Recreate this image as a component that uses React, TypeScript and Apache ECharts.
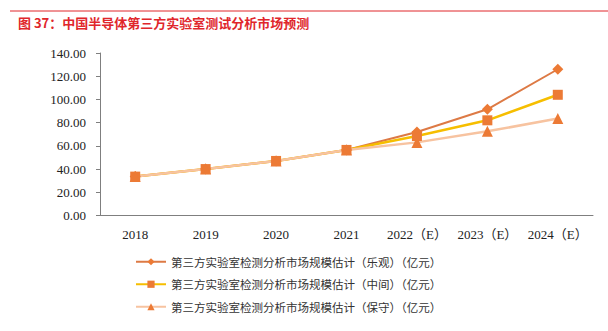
import React, { useEffect, useRef } from "react";
import * as echarts from "echarts";

const categories = ["2018", "2019", "2020", "2021", "2022（E）", "2023（E）", "2024（E）"];
const optimistic = [33.5, 40, 47, 56.5, 72, 91.5, 126];
const middle = [33.5, 40, 47, 56.5, 68.5, 82, 104];
const conservative = [33.5, 40, 47, 56.5, 63, 72.5, 83.5];
const seriesNames = [
  "第三方实验室检测分析市场规模估计（乐观）（亿元）",
  "第三方实验室检测分析市场规模估计（中间）（亿元）",
  "第三方实验室检测分析市场规模估计（保守）（亿元）",
];
const title = "图 37：中国半导体第三方实验室测试分析市场预测";

export default function App() {
  const ref = useRef<HTMLDivElement>(null);
  useEffect(() => {
    if (!ref.current) return;
    const chart = echarts.init(ref.current, undefined, { renderer: "svg" });
    const serif = "'Liberation Serif', 'Noto Sans CJK SC', serif";
    chart.setOption({
      animation: false,
      backgroundColor: "#ffffff",
      title: {
        text: title,
        left: 13,
        top: 11,
        textStyle: {
          color: "#E0262B",
          fontSize: 13,
          fontWeight: "bold",
          fontFamily: "'Noto Sans CJK SC', sans-serif",
        },
      },
      graphic: [
        {
          type: "line",
          shape: { x1: 10, y1: 11, x2: 608, y2: 11 },
          style: { stroke: "#E0262B", lineWidth: 1 },
        },
      ],
      grid: { left: 100, right: 15, top: 53, bottom: 115.5, containLabel: false },
      legend: {
        orient: "vertical",
        left: 130,
        top: 251,
        itemWidth: 30,
        itemHeight: 9,
        itemGap: 11,
        textStyle: {
          fontSize: 11.5,
          color: "#333",
          fontFamily: "'Noto Sans CJK SC', sans-serif",
        },
        data: seriesNames,
      },
      xAxis: {
        type: "category",
        data: categories,
        boundaryGap: true,
        axisLine: { lineStyle: { color: "#7f7f7f", width: 1 } },
        axisTick: { show: false },
        axisLabel: {
          color: "#222",
          fontSize: 13,
          fontFamily: serif,
          margin: 12,
          interval: 0,
        },
      },
      yAxis: {
        type: "value",
        min: 0,
        max: 140,
        interval: 20,
        splitLine: { show: false },
        axisLine: { show: true, lineStyle: { color: "#7f7f7f", width: 1 } },
        axisTick: { show: true, length: 4, lineStyle: { color: "#7f7f7f" } },
        axisLabel: {
          color: "#222",
          fontSize: 13,
          fontFamily: serif,
          margin: 14,
          formatter: (v: number) => v.toFixed(2),
        },
      },
      series: [
        {
          name: seriesNames[0],
          type: "line",
          data: optimistic,
          symbol: "diamond",
          symbolSize: 11,
          lineStyle: { color: "#DD7A45", width: 2 },
          itemStyle: { color: "#EC7A35" },
        },
        {
          name: seriesNames[1],
          type: "line",
          data: middle,
          symbol: "rect",
          symbolSize: 10,
          lineStyle: { color: "#F6BE00", width: 2.5 },
          itemStyle: { color: "#EC7A35" },
        },
        {
          name: seriesNames[2],
          type: "line",
          data: conservative,
          symbol: "triangle",
          symbolSize: 11,
          lineStyle: { color: "#F7C3A0", width: 2.5 },
          itemStyle: { color: "#EC7A35" },
        },
      ],
    });
    return () => chart.dispose();
  }, []);
  return (
    <div
      ref={ref}
      style={{ position: "fixed", left: 0, top: 0, width: 608, height: 331 }}
    />
  );
}
